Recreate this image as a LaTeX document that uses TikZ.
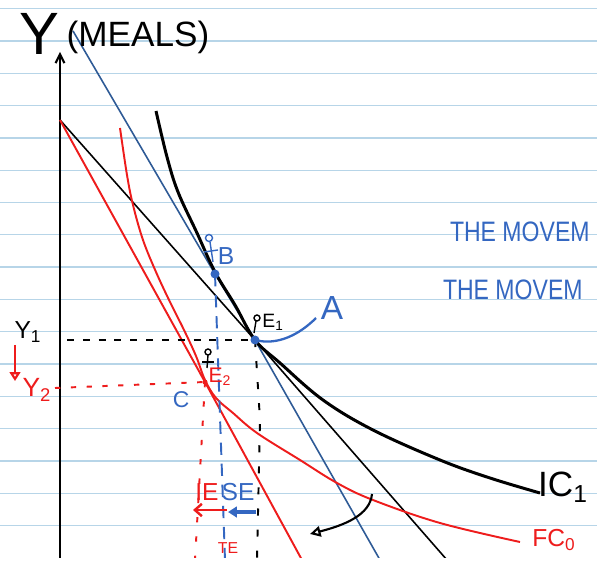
\documentclass[tikz,border=0pt]{standalone}
\usepackage{fontspec}
\setmainfont{Liberation Sans}
\usetikzlibrary{arrows.meta}
\definecolor{paperline}{HTML}{B7D5E8}
\definecolor{bline}{HTML}{2E5A96}
\definecolor{bink}{HTML}{3467C1}
\definecolor{rink}{HTML}{EE1C1C}
\tikzset{
  ruled/.style={paperline, line width=0.7pt},
  axisline/.style={black, line width=1.2pt},
  bud/.style={line width=0.9pt},
  curveblack/.style={black, line width=1.7pt},
  curvered/.style={rink, line width=1.1pt},
  lab/.style={inner sep=0pt, outer sep=0pt},
  pin/.style={line width=0.8pt},
}
\newcommand{\fs}[1]{\fontsize{#1}{#1}\selectfont}
\begin{document}
\begin{tikzpicture}[x=0.02cm,y=-0.02cm]
\useasboundingbox (0,0) rectangle (597,573);
\fill[white] (0,0) rectangle (597,573);
\begin{scope}
\clip (0,0) rectangle (597,557);
\foreach \k in {0,...,16} \draw[ruled] (0,{8.7+32.3*\k}) -- (597,{8.7+32.3*\k});

% key points
\coordinate (axb) at (60,560);
\coordinate (axt) at (60,52);
\coordinate (O) at (60,120);
\coordinate (E1) at (255,340);
\coordinate (E2) at (205,382);
\coordinate (B) at (215,274);
\coordinate (blE) at (447,560);
\coordinate (buT) at (73,31);
\coordinate (buE) at (380,560);
\coordinate (reE) at (302,560);

% axis
\draw[axisline,-{Straight Barb[length=5pt,width=5pt]}] (axb) -- (axt);

% budget lines
\draw[bud, black] (O) -- (E1) -- (blE);
\draw[bud, bline] (buT) -- (B) -- (E1) -- (buE);
\draw[curvered] (O) -- (E2) -- (reE);

% IC1
\draw[curveblack] plot[smooth, tension=0.6] coordinates {(156,111) (167,157) (178,192) (197,233) (215,272) (235,305) (255,340) (280,363) (323,400) (373,430) (440,460) (490,478) (540,493)};

% FC0
\draw[curvered] plot[smooth, tension=0.6] coordinates {(120,128) (127,175) (133,205) (143,240) (156,272) (170,302) (184,330) (196,356) (205,380) (216,398) (233,413) (257,433) (300,460) (337,483) (373,500) (440,523) (520,542)};

% curve A
\draw[bink, line width=1.3pt] (E1) .. controls (278,346) and (300,334) .. (316,318);

% dashed guides
\coordinate (Y1a) at (67,340);
\coordinate (Y2a) at (55,388);
\draw[black, line width=1.1pt, dash pattern=on 4pt off 5pt] (Y1a) -- (E1);
\draw[rink, line width=1.1pt, dash pattern=on 3pt off 6pt] (Y2a) -- (E2);
\coordinate (bB) at (225,560);
\coordinate (bE1) at (257,560);
\coordinate (bE2) at (195,560);
\draw[bink, line width=1.1pt, dash pattern=on 7pt off 5pt] (B) -- (bB);
\draw[black, line width=1.1pt, dash pattern=on 4pt off 8pt] (E1) -- (260,420) -- (bE1);
\draw[rink, line width=1.1pt, dash pattern=on 3pt off 8pt] (E2) -- (bE2);

% points
\fill[bink] (B) circle (4.5);
\fill[bink] (E1) circle (4.5);
\fill[rink] (E2) circle (2.5);

% pins
\draw[pin, bink] (209,238) circle (3.5);
\draw[pin, bink] (210,242) -- (213,262);
\draw[pin, bink] (204,252) -- (218,250);
\draw[pin, black] (257,318) circle (3);
\draw[pin, black] (256,321) -- (254,333);
\draw[pin, black] (208,352) circle (3);
\draw[pin, black] (208,355) -- (207,368);
\draw[pin, black] (202,362) -- (214,362);

% labels
\node[lab] (ylab) at (39,34) {\fs{34}Y};
\node[lab] (units) at (138,37) {\fs{20}(MEALS)};
\node[lab] (y1) at (28,332) {\fs{14}Y\textsubscript{1}};
\node[lab, rink] (y2) at (37,390) {\fs{15}Y\textsubscript{2}};
\node[lab] (e1) at (273,322) {\fs{11}E\textsubscript{1}};
\node[lab, rink] (e2) at (220,377) {\fs{12}E\textsubscript{2}};
\node[lab, bink] (lb) at (226,256) {\fs{14}B};
\node[lab, bink] (la) at (332,308) {\fs{19}A};
\node[lab, bink] (lc) at (181,400) {\fs{13}C};
\node[lab] (ic) at (563,487) {\fs{20}IC\textsubscript{1}};
\node[lab, rink] (fc) at (554,540) {\fs{14}FC\textsubscript{0}};
\node[lab, rink] (ie) at (207,492) {\fs{14}IE};
\node[lab, bink] (se) at (238,492) {\fs{14}SE};
\node[lab, rink] (te) at (228,548) {\fs{9}TE};
\node[lab, bink, anchor=west] (m1) at (450,232) {\scalebox{0.82}[1]{\fs{16}THE MOVEM}};
\node[lab, bink, anchor=west] (m2) at (443,290) {\scalebox{0.82}[1]{\fs{16}THE MOVEM}};

% arrows
\coordinate (ya) at (15,345);
\coordinate (yb) at (15,381);
\draw[rink, line width=1.2pt, -{Triangle[open, length=5pt, width=6pt]}] (ya) -- (yb);
\coordinate (ra) at (227,510);
\coordinate (rb) at (193,510);
\draw[rink, line width=1.4pt, -{Straight Barb[length=4pt,width=7pt]}] (ra) -- (rb);
\coordinate (sa) at (256,512);
\coordinate (sb) at (228,512);
\draw[bink, line width=1.8pt, -{Triangle[length=5pt, width=6pt]}] (sa) -- (sb);
\coordinate (ca) at (372,494);
\coordinate (cb) at (310,534);
\draw[black, line width=1.2pt, -{Triangle[open, length=6pt, width=6pt]}] (ca) .. controls (370,515) and (345,525) .. (cb);
\end{scope}
\end{tikzpicture}
\end{document}
